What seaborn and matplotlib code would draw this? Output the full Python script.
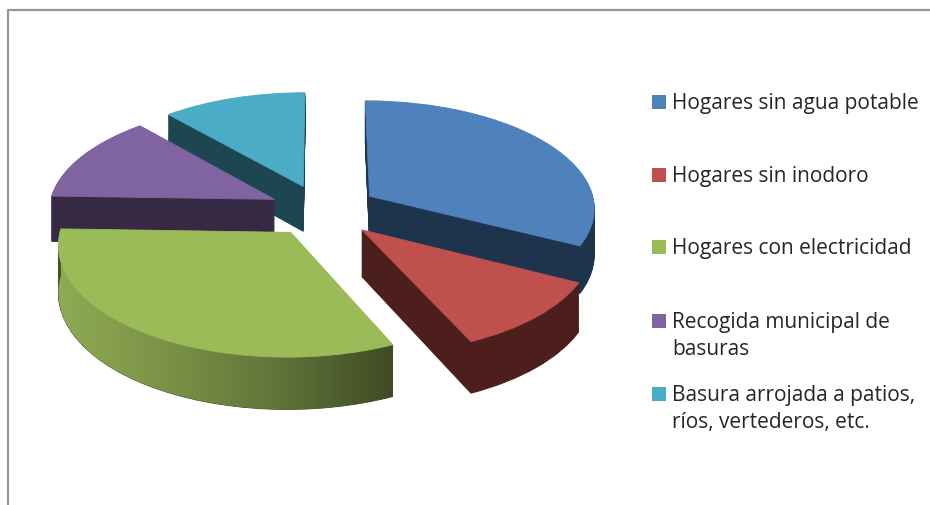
import numpy as np
import seaborn as sns
import matplotlib
matplotlib.use("Agg")
import matplotlib.pyplot as plt
from matplotlib.colors import LinearSegmentedColormap
from matplotlib.patches import Rectangle
from matplotlib.path import Path
from matplotlib.transforms import Transform

# Data
labels = ["Hogares sin agua potable", "Hogares sin inodoro", "Hogares con electricidad",
          "Recogida municipal de\nbasuras", "Basura arrojada a patios,\nríos, vertederos, etc."]
values = [32.5, 10.7, 32.3, 13, 11.5]
explode = [0.25, 0.25, 0.245, 0.235, 0.24]
top_colors = ["#4F81BD", "#C0504D", "#9BBB59", "#8064A2", "#4BACC6"]
side_colors = ["#1E344D", "#4C1F1D", "#44502A", "#352944", "#1D4652"]
legend_y = [103, 176, 248, 322, 395]

# Tilted view of the pie plane, in pixel coordinates
CX, CY, RX, RY, TILT, DEPTH = 322, 211, 226, 107.5, 0.10, 46


class TiltView(Transform):
    input_dims = output_dims = 2

    def __init__(self, z=0.0):
        super().__init__()
        self.z = z

    def transform_non_affine(self, values):
        xy = np.asarray(values, dtype=float)
        w = 1 + TILT * xy[:, 1]
        return np.column_stack([CX + RX * xy[:, 0] / w,
                                CY - RY * xy[:, 1] / w + self.z * DEPTH / w])


sns.set_theme(style="white")
plt.rcParams["font.family"] = ["Open Sans", "DejaVu Sans"]
fig = plt.figure(figsize=(9.3, 5.06), dpi=100)
ax = fig.add_axes([0, 0, 1, 1])


def draw_layer(colors, z, order):
    wedges, _ = ax.pie(values, colors=colors, startangle=90, counterclock=False,
                       explode=explode, wedgeprops={"linewidth": 0.6})
    for w in wedges:
        w.set_edgecolor(w.get_facecolor())
        w.set_transform(TiltView(z) + ax.transData)
        w.set_zorder(order)
        w.set_clip_on(False)
    return wedges


# stacked copies of the pie make the walls, the last one is the top face
steps = np.linspace(1, 0.02, 40)
for i, z in enumerate(steps):
    draw_layer(side_colors, z, 2 + i * 0.01)
wedges = draw_layer(top_colors, 0, 5)

# shaded outer wall of the green slice
green = wedges[2]
t = np.radians(np.linspace(green.theta1, green.theta2, 80))
rim = np.column_stack([green.center[0] + green.r * np.cos(t), green.center[1] + green.r * np.sin(t)])
wall = np.vstack([TiltView(0).transform_non_affine(rim), TiltView(1).transform_non_affine(rim)[::-1]])
x0, x1 = wall[:, 0].min(), wall[:, 0].max()
ramp = LinearSegmentedColormap.from_list("wall", ["#8FAB54", "#7A9146", "#5F7338", "#3F4A24"])
img = ax.imshow(np.linspace(0, 1, 256)[None, :], cmap=ramp, aspect="auto", zorder=4,
                extent=(x0, x1, wall[:, 1].max(), wall[:, 1].min()))
img.set_clip_path(Path(wall, closed=False), ax.transData)

ax.set_aspect("auto")
ax.set_xlim(0, 930)
ax.set_ylim(506, 0)
ax.axis("off")

# chart border
ax.plot([7.5, 7.5, 930], [506, 10.5, 10.5], color="#969696", lw=1.6, zorder=1)

# legend
for label, color, y in zip(labels, top_colors, legend_y):
    ax.add_patch(Rectangle((652, y - 7), 14, 14, facecolor=color, edgecolor="none"))
    ax.text(672, y - 10, label, fontsize=15.0, color="#262626", va="top", ha="left", linespacing=1.4)

fig.savefig("out.png", dpi=100)
plt.close(fig)
